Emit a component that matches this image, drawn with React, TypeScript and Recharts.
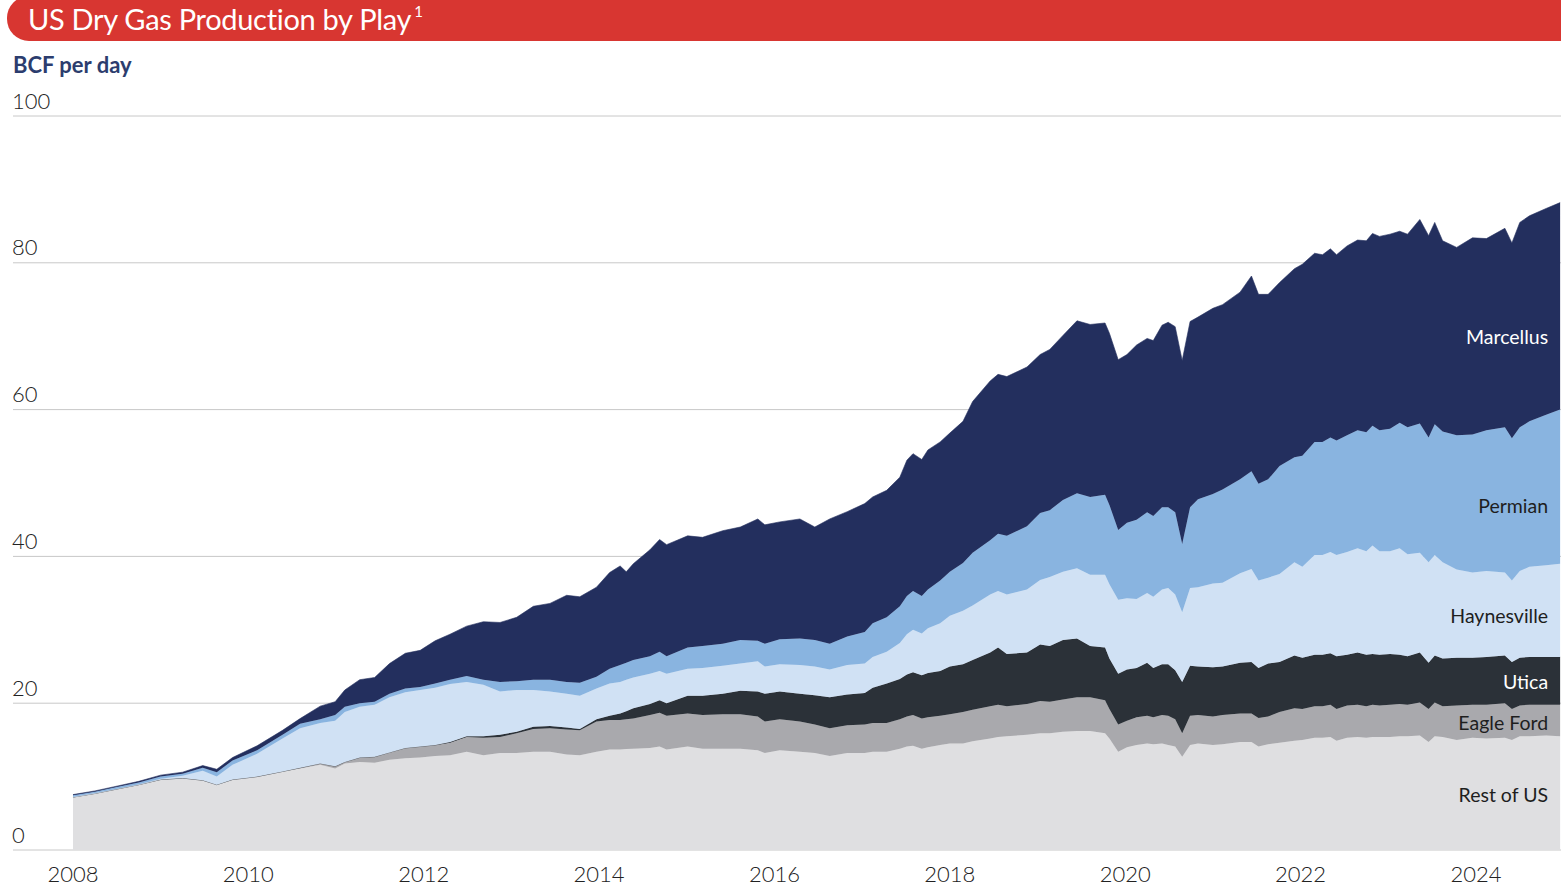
import React from "react";
import { AreaChart, Area, XAxis, YAxis, CartesianGrid, ReferenceDot } from "recharts";

// decimal years of each reading
const years = [
  2008.0, 2008.25, 2008.5, 2008.75, 2009.0, 2009.25, 2009.48, 2009.64, 2009.82, 2010.1,
  2010.39, 2010.59, 2010.82, 2010.99, 2011.1, 2011.27, 2011.44, 2011.61, 2011.79, 2011.96,
  2012.13, 2012.3, 2012.49, 2012.68, 2012.87, 2013.06, 2013.25, 2013.44, 2013.63, 2013.78,
  2013.97, 2014.12, 2014.24, 2014.31, 2014.39, 2014.58, 2014.69, 2014.77, 2015.01, 2015.18,
  2015.41, 2015.61, 2015.81, 2015.89, 2016.06, 2016.29, 2016.46, 2016.63, 2016.83, 2017.03,
  2017.12, 2017.28, 2017.43, 2017.51, 2017.58, 2017.68, 2017.75, 2017.89, 2018.0, 2018.15,
  2018.26, 2018.46, 2018.55, 2018.65, 2018.88, 2019.03, 2019.14, 2019.29, 2019.45, 2019.6,
  2019.77, 2019.82, 2019.92, 2020.02, 2020.13, 2020.25, 2020.32, 2020.42, 2020.49, 2020.57,
  2020.65, 2020.74, 2020.83, 2021.0, 2021.11, 2021.31, 2021.44, 2021.52, 2021.63, 2021.76,
  2021.93, 2022.02, 2022.16, 2022.25, 2022.34, 2022.41, 2022.53, 2022.65, 2022.75, 2022.82,
  2022.9, 2023.02, 2023.13, 2023.22, 2023.36, 2023.46, 2023.53, 2023.62, 2023.78, 2023.96,
  2024.12, 2024.33, 2024.41, 2024.5, 2024.61, 2024.8, 2024.96,
];

const restOfUS = [
  7.2, 7.7, 8.3, 8.9, 9.6, 9.8, 9.5, 8.9, 9.6, 10.0,
  10.7, 11.1, 11.6, 11.1, 11.8, 12.0, 11.9, 12.3, 12.5, 12.6,
  12.8, 12.9, 13.4, 12.9, 13.2, 13.2, 13.4, 13.4, 13.0, 12.9,
  13.4, 13.7, 13.7, 13.75, 13.8, 13.9, 14.1, 13.7, 14.1, 13.8,
  13.8, 13.8, 13.6, 13.2, 13.6, 13.4, 13.2, 12.8, 13.2, 13.2,
  13.4, 13.4, 13.8, 14.1, 14.2, 13.8, 14.0, 14.3, 14.5, 14.5,
  14.8, 15.2, 15.4, 15.5, 15.7, 15.9, 15.9, 16.1, 16.2, 16.2,
  15.9, 15.2, 13.4, 14.0, 14.3, 14.5, 14.4, 14.5, 14.3, 14.1,
  12.7, 14.3, 14.5, 14.3, 14.4, 14.7, 14.7, 14.1, 14.4, 14.6,
  14.9, 15.0, 15.3, 15.3, 15.4, 14.9, 15.3, 15.4, 15.3, 15.4,
  15.4, 15.4, 15.5, 15.5, 15.6, 14.7, 15.5, 15.4, 15.0, 15.3,
  15.2, 15.3, 15.0, 15.5, 15.5, 15.6, 15.5,
];

const eagleFord = [
  0, 0, 0, 0, 0, 0, 0, 0, 0, 0,
  0, 0.1, 0.2, 0.3, 0.2, 0.6, 0.8, 1.0, 1.4, 1.5,
  1.5, 1.7, 2.0, 2.4, 2.2, 2.7, 3.1, 3.2, 3.4, 3.4,
  4.1, 4.0, 4.0, 4.05, 4.1, 4.5, 4.6, 4.6, 4.5, 4.6,
  4.7, 4.7, 4.6, 4.3, 4.2, 4.1, 3.9, 3.8, 3.8, 3.9,
  3.9, 3.9, 4.0, 4.1, 4.2, 4.1, 4.1, 4.0, 4.0, 4.3,
  4.3, 4.4, 4.4, 4.1, 4.2, 4.4, 4.3, 4.4, 4.6, 4.6,
  4.5, 4.0, 3.7, 3.6, 3.8, 3.8, 3.7, 3.9, 4.0, 3.7,
  3.2, 4.0, 3.9, 3.9, 4.0, 3.9, 3.9, 3.9, 3.8, 4.2,
  4.4, 4.2, 4.3, 4.3, 4.4, 4.3, 4.4, 4.4, 4.3, 4.4,
  4.3, 4.4, 4.4, 4.3, 4.5, 4.5, 4.6, 4.2, 4.7, 4.5,
  4.6, 4.7, 4.2, 4.2, 4.3, 4.2, 4.3,
];

const utica = [
  0, 0, 0, 0, 0, 0, 0, 0, 0, 0,
  0, 0, 0, 0, 0, 0, 0, 0, 0, 0,
  0, 0.1, 0.1, 0.2, 0.3, 0.2, 0.3, 0.3, 0.3, 0.2,
  0.3, 0.6, 0.9, 1.1, 1.4, 1.5, 1.7, 1.7, 2.4, 2.6,
  2.8, 3.2, 3.4, 3.8, 3.8, 3.8, 4.0, 4.2, 4.2, 4.3,
  4.8, 5.4, 5.5, 5.7, 5.8, 5.9, 6.0, 6.1, 6.5, 6.5,
  6.8, 7.3, 7.8, 7.1, 7.0, 7.7, 7.6, 8.1, 8.0, 7.0,
  7.2, 6.9, 6.9, 7.0, 6.7, 7.2, 6.7, 6.9, 7.0, 6.7,
  7.0, 6.8, 6.6, 6.7, 6.6, 6.9, 7.0, 6.8, 7.2, 6.8,
  7.2, 7.0, 7.0, 7.0, 7.0, 7.2, 6.9, 7.1, 7.0, 6.9,
  6.9, 6.9, 6.7, 6.6, 6.8, 6.3, 6.4, 6.5, 6.5, 6.4,
  6.5, 6.5, 6.4, 6.5, 6.5, 6.5, 6.5,
];

const haynesville = [
  0.05, 0.05, 0.05, 0.05, 0.1, 0.3, 1.3, 1.1, 2.0, 3.1,
  4.5, 5.4, 5.5, 6.2, 6.8, 6.9, 7.1, 7.5, 7.6, 7.7,
  7.8, 7.9, 7.4, 7.0, 5.9, 5.7, 5.0, 4.7, 4.6, 4.5,
  4.2, 4.4, 4.3, 4.3, 4.2, 4.1, 4.0, 4.0, 3.7, 3.8,
  3.8, 3.7, 4.1, 3.7, 3.7, 3.9, 3.9, 3.8, 4.0, 4.0,
  4.2, 4.3, 4.9, 5.5, 5.8, 5.7, 6.1, 6.5, 6.9, 7.3,
  7.4, 7.9, 7.7, 8.1, 8.6, 8.8, 9.4, 9.3, 9.6, 9.7,
  9.9, 10.1, 10.1, 9.7, 9.4, 9.5, 9.7, 10.2, 10.4, 10.3,
  9.5, 10.6, 10.8, 11.4, 11.4, 12.2, 12.7, 11.9, 11.7, 12.0,
  12.7, 12.4, 13.6, 13.6, 13.8, 13.8, 14.0, 14.2, 14.1, 14.8,
  14.1, 14.0, 14.5, 13.9, 13.6, 13.7, 13.7, 13.1, 12.0, 11.6,
  11.7, 11.3, 11.1, 11.8, 12.3, 12.5, 12.7,
];

const permian = [
  0.2, 0.2, 0.25, 0.25, 0.3, 0.3, 0.4, 0.6, 0.6, 0.5,
  0.5, 0.6, 0.5, 0.8, 0.7, 0.5, 0.4, 0.5, 0.5, 0.4,
  0.6, 0.6, 0.8, 0.7, 1.3, 1.2, 1.4, 1.6, 1.6, 1.8,
  1.6, 2.0, 2.3, 2.3, 2.4, 2.4, 2.6, 2.4, 2.9, 3.0,
  3.0, 3.2, 2.8, 3.1, 3.4, 3.6, 3.6, 3.5, 3.9, 4.3,
  4.6, 4.7, 5.0, 5.2, 5.3, 5.1, 5.3, 5.8, 6.0, 6.5,
  7.2, 7.4, 7.8, 8.0, 8.6, 9.1, 9.1, 9.8, 10.2, 10.6,
  10.9, 10.8, 9.5, 10.3, 10.8, 11.0, 11.0, 11.2, 11.0, 11.2,
  9.3, 11.0, 12.0, 12.2, 12.7, 12.8, 13.3, 13.2, 13.4, 14.7,
  14.3, 15.1, 15.4, 15.4, 15.6, 15.6, 15.9, 16.1, 16.2, 16.3,
  16.5, 16.7, 17.1, 17.3, 17.6, 17.0, 17.8, 17.8, 18.3, 18.8,
  19.2, 19.8, 19.4, 19.6, 19.8, 20.5, 21.0,
];

const marcellus = [
  0.1, 0.1, 0.1, 0.15, 0.2, 0.2, 0.3, 0.4, 0.4, 0.6,
  0.6, 0.7, 1.8, 1.8, 2.3, 3.2, 3.3, 4.1, 4.8, 5.0,
  5.8, 6.2, 6.8, 7.9, 8.1, 8.7, 10.0, 10.4, 11.8, 11.7,
  12.2, 13.1, 13.5, 12.4, 13.1, 14.5, 15.3, 15.2, 15.2, 14.8,
  15.4, 15.4, 16.6, 16.2, 16.0, 16.3, 15.4, 17.0, 17.0, 17.5,
  17.2, 17.3, 17.6, 18.5, 18.7, 18.6, 19.0, 18.9, 18.9, 19.3,
  20.6, 21.7, 21.7, 21.7, 21.7, 21.6, 21.9, 22.4, 23.5, 23.5,
  23.4, 23.4, 23.2, 22.9, 23.8, 23.7, 23.9, 24.8, 25.2, 25.3,
  25.0, 25.3, 24.8, 25.3, 25.2, 25.5, 26.6, 25.8, 25.2, 25.0,
  25.7, 26.1, 25.7, 25.5, 25.7, 25.3, 25.8, 25.9, 26.1, 26.2,
  26.4, 26.5, 26.1, 26.3, 27.8, 27.5, 27.5, 26.0, 25.6, 26.8,
  26.1, 27.1, 26.6, 27.9, 28.0, 28.1, 28.2,
];

const yTicks = [0, 20, 40, 60, 80, 100];
const xTicks = [2008, 2010, 2012, 2014, 2016, 2018, 2020, 2022, 2024];

const series = [
  { key: "rest", name: "Rest of US", color: "#DFDFE1", text: "#1E1E1E", labelAt: 7.5 },
  { key: "eagleFord", name: "Eagle Ford", color: "#A9A9AD", text: "#1E1E1E", labelAt: 17.4 },
  { key: "utica", name: "Utica", color: "#2B3138", text: "#FFFFFF", labelAt: 22.9 },
  { key: "haynesville", name: "Haynesville", color: "#D0E1F4", text: "#1E1E1E", labelAt: 31.9 },
  { key: "permian", name: "Permian", color: "#89B4E0", text: "#1E1E1E", labelAt: 47.0 },
  { key: "marcellus", name: "Marcellus", color: "#232F5E", text: "#FFFFFF", labelAt: 70.0 },
];

const data = years.map((t, i) => ({
  t,
  rest: restOfUS[i],
  eagleFord: eagleFord[i],
  utica: utica[i],
  haynesville: haynesville[i],
  permian: permian[i],
  marcellus: marcellus[i],
}));

const lastYear = years[years.length - 1];
const FONT = "Lato, 'Open Sans', sans-serif";

const XTick = (props: any) => {
  const { x, y, payload } = props;
  return (
    <text x={x} y={y} dy={15} textAnchor="middle" dominantBaseline="central" fontSize={22} fontWeight={300} fill="#222" fontFamily={FONT}>
      {payload.value}
    </text>
  );
};

const YTick = (props: any) => {
  const { y, payload } = props;
  return (
    <text x={12} y={y - 16} textAnchor="start" dominantBaseline="central" fontSize={22} fontWeight={300} fill="#222" fontFamily={FONT}>
      {payload.value}
    </text>
  );
};

export default function App() {
  return (
    <div style={{ position: "absolute", left: 0, top: 0, width: 1561, height: 887, overflow: "hidden", background: "#fff", fontFamily: FONT }}>
      <AreaChart width={1561} height={887} data={data} margin={{ top: 116, right: 0, bottom: 7, left: 13 }}>
        <CartesianGrid vertical={false} stroke="#C8C8C8" strokeWidth={1} />
        <XAxis
          dataKey="t"
          type="number"
          domain={[2007.316, 2024.97]}
          allowDataOverflow
          ticks={xTicks}
          axisLine={false}
          tickLine={false}
          height={30}
          tick={<XTick />}
          interval={0}
        />
        <YAxis
          type="number"
          domain={[0, 100]}
          ticks={yTicks}
          width={60}
          mirror
          axisLine={false}
          tickLine={false}
          tick={<YTick />}
          interval={0}
        />
        {series.map((s) => (
          <Area
            key={s.key}
            dataKey={s.key}
            name={s.name}
            stackId="gas"
            type="linear"
            fill={s.color}
            fillOpacity={1}
            stroke={s.color}
            strokeWidth={0.6}
            isAnimationActive={false}
            dot={false}
            activeDot={false}
          />
        ))}
        {series.map((s) => (
          <ReferenceDot
            key={"lbl-" + s.key}
            x={lastYear}
            y={s.labelAt}
            r={0}
            fill="none"
            stroke="none"
            ifOverflow="visible"
            label={(p: any) => {
              const vb = p.viewBox || {};
              const cx = (vb.x || 0) + (vb.width || 0) / 2;
              const cy = (vb.y || 0) + (vb.height || 0) / 2;
              return (
                <text x={cx - 12} y={cy} textAnchor="end" dominantBaseline="central" fontSize={19.5} fill={s.text} fontFamily={FONT}>
                  {s.name}
                </text>
              );
            }}
          />
        ))}
      </AreaChart>

      <div
        style={{
          position: "absolute",
          left: 7,
          top: -4,
          width: 1560,
          height: 45,
          background: "#D83631",
          borderTopLeftRadius: 22,
          borderBottomLeftRadius: 22,
        }}
      />
      <div
        style={{
          position: "absolute",
          left: 28,
          top: 1,
          height: 36,
          lineHeight: "36px",
          color: "#fff",
          fontSize: 29,
          letterSpacing: -0.3,
          whiteSpace: "nowrap",
        }}
      >
        US Dry Gas Production by Play
        <sup style={{ fontSize: 15, marginLeft: 3, verticalAlign: "top", position: "relative", top: -8 }}>1</sup>
      </div>
      <div
        style={{
          position: "absolute",
          left: 13,
          top: 51,
          fontSize: 22,
          fontWeight: 700,
          color: "#2C3D6E",
          whiteSpace: "nowrap",
        }}
      >
        BCF per day
      </div>
    </div>
  );
}
